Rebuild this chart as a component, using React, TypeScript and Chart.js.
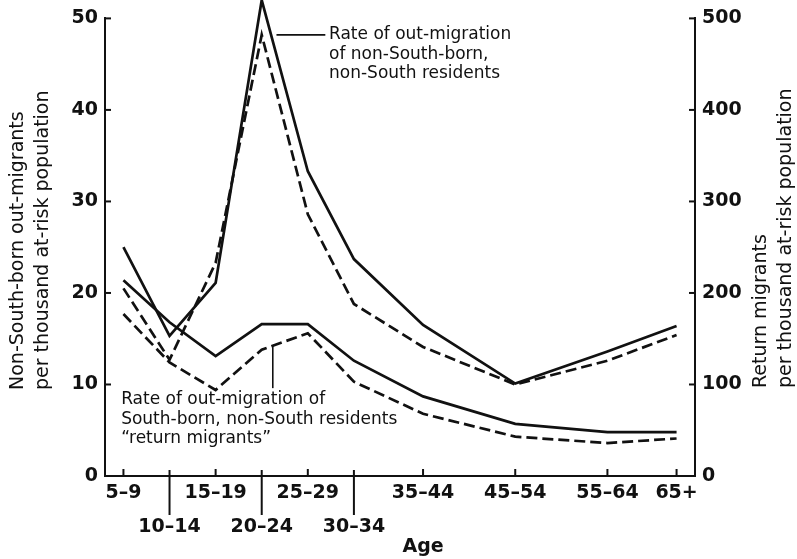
import React, { useEffect, useRef } from 'react';
import { Chart, registerables } from 'chart.js';

Chart.register(...registerables);

// ---- Data ----
const ageGroups = ['5–9', '10–14', '15–19', '20–24', '25–29', '30–34', '35–44', '45–54', '55–64', '65+'];
const ageMidpoints = [7, 12, 17, 22, 27, 32, 39.5, 49.5, 59.5, 67];
const lowerRowGroups = ['10–14', '20–24', '30–34'];

// Non-South-born, non-South residents (left axis, per thousand)
const nonSouthBornSolid = [25.0, 15.3, 21.1, 52.0, 33.3, 23.7, 16.5, 10.1, 13.6, 16.4];
const nonSouthBornDashed = [20.5, 12.7, 23.3, 48.2, 28.6, 18.8, 14.1, 10.0, 12.6, 15.4];

// South-born, non-South residents, "return migrants" (right axis, per thousand)
const returnSolid = [214, 168, 131, 166, 166, 126, 87, 57, 48, 48];
const returnDashed = [177, 124, 94, 138, 156, 103, 68, 43, 36, 41];

const leftTicks = [0, 10, 20, 30, 40, 50];
const rightTicks = [0, 100, 200, 300, 400, 500];

const leftTitle = ['Non-South-born out-migrants', 'per thousand at-risk population'];
const rightTitle = ['Return migrants', 'per thousand at-risk population'];
const xTitle = 'Age';
const noteUpper = ['Rate of out-migration', 'of non-South-born,', 'non-South residents'];
const noteLower = ['Rate of out-migration of', 'South-born, non-South residents', '“return migrants”'];

const INK = '#111';
const FONT = 'DejaVu Sans';

const pts = (ys: number[]) => ageMidpoints.map((x, i) => ({ x, y: ys[i] }));

const decorPlugin = {
  id: 'decor',
  afterDraw(chart: any) {
    const { ctx, chartArea, scales } = chart;
    const xs = scales.x;
    const yl = scales.y;
    const yr = scales.y2;
    const { left, right, bottom } = chartArea;
    ctx.save();
    ctx.strokeStyle = INK;
    ctx.fillStyle = INK;
    ctx.lineWidth = 2;
    ctx.lineCap = 'butt';
    const seg = (x1: number, y1: number, x2: number, y2: number) => {
      ctx.beginPath();
      ctx.moveTo(x1, y1);
      ctx.lineTo(x2, y2);
      ctx.stroke();
    };
    // y ticks (inward)
    leftTicks.forEach((v) => {
      const py = yl.getPixelForValue(v);
      seg(left, py, left + 6, py);
    });
    rightTicks.forEach((v) => {
      const py = yr.getPixelForValue(v);
      seg(right - 6, py, right, py);
    });
    // x ticks
    ageGroups.forEach((g, i) => {
      const px = xs.getPixelForValue(ageMidpoints[i]);
      if (lowerRowGroups.includes(g)) seg(px, bottom - 6, px, bottom + 39);
      else seg(px, bottom - 7, px, bottom);
    });

    // axis titles
    ctx.font = `19px "${FONT}"`;
    ctx.textAlign = 'left';
    ctx.textBaseline = 'middle';
    const drawRot = (lines: string[], xs0: number[], y0: number) => {
      lines.forEach((t, i) => {
        ctx.save();
        ctx.translate(xs0[i], y0);
        ctx.rotate(-Math.PI / 2);
        ctx.fillText(t, 0, 0);
        ctx.restore();
      });
    };
    drawRot(leftTitle, [left - 87, left - 62], bottom - 86);
    drawRot(rightTitle, [right + 66, right + 91], bottom - 88);

    ctx.font = `bold 19px "${FONT}"`;
    ctx.textAlign = 'center';
    ctx.fillText(xTitle, xs.getPixelForValue(39.5), bottom + 71);

    // annotations
    ctx.lineWidth = 1.6;
    const a1y = yl.getPixelForValue(48.2);
    seg(xs.getPixelForValue(23.6), a1y, xs.getPixelForValue(28.9), a1y);
    ctx.font = `17px "${FONT}"`;
    ctx.textAlign = 'left';
    const a1x = xs.getPixelForValue(29.3);
    noteUpper.forEach((t, i) => ctx.fillText(t, a1x, a1y + i * 19.5));

    const lx = xs.getPixelForValue(23.2);
    seg(lx, yr.getPixelForValue(143), lx, yr.getPixelForValue(96));
    const a2x = xs.getPixelForValue(6.75);
    const a2y = yr.getPixelForValue(83);
    noteLower.forEach((t, i) => ctx.fillText(t, a2x, a2y + i * 19.5));
    ctx.restore();
  },
};

export default function App() {
  const ref = useRef<HTMLCanvasElement | null>(null);
  useEffect(() => {
    if (!ref.current) return;
    Chart.defaults.font.family = FONT;
    const base = {
      borderColor: INK,
      borderWidth: 2.7,
      pointRadius: 0,
      tension: 0,
      fill: false,
      clip: false as any,
      borderJoinStyle: 'miter' as const,
    };
    const tickFont = { family: FONT, size: 19, weight: 'bold' as const };
    const chart = new Chart(ref.current, {
      type: 'line',
      data: {
        datasets: [
          { ...base, data: pts(nonSouthBornSolid), yAxisID: 'y' },
          { ...base, data: pts(nonSouthBornDashed), yAxisID: 'y', borderDash: [11, 5] },
          { ...base, data: pts(returnSolid), yAxisID: 'y2' },
          { ...base, data: pts(returnDashed), yAxisID: 'y2', borderDash: [11, 5] },
        ],
      },
      options: {
        animation: false,
        responsive: false,
        layout: { padding: { top: 18, left: 0, right: 0, bottom: 0 } },
        plugins: { legend: { display: false }, tooltip: { enabled: false } },
        scales: {
          x: {
            type: 'linear',
            position: 'bottom',
            min: 5,
            max: 69,
            afterBuildTicks: (s: any) => {
              s.ticks = ageMidpoints.map((v) => ({ value: v }));
            },
            afterFit: (s: any) => {
              s.height = 83;
            },
            grid: { display: false, drawTicks: false },
            border: { display: true, color: INK, width: 2 },
            ticks: {
              autoSkip: false,
              maxRotation: 0,
              minRotation: 0,
              padding: 0,
              color: INK,
              font: { ...tickFont, lineHeight: '34px' as any },
              callback: (v: any) => {
                const i = ageMidpoints.indexOf(Number(v));
                if (i < 0) return '';
                const g = ageGroups[i];
                return lowerRowGroups.includes(g) ? ['', g] : g;
              },
            },
          },
          y: {
            position: 'left',
            min: 0,
            max: 50,
            afterBuildTicks: (s: any) => {
              s.ticks = leftTicks.map((v) => ({ value: v }));
            },
            afterFit: (s: any) => {
              s.width = 105;
            },
            grid: { display: false, drawTicks: false },
            border: { display: true, color: INK, width: 2 },
            ticks: { padding: 7, color: INK, font: tickFont },
          },
          y2: {
            position: 'right',
            min: 0,
            max: 500,
            afterBuildTicks: (s: any) => {
              s.ticks = rightTicks.map((v) => ({ value: v }));
            },
            afterFit: (s: any) => {
              s.width = 102;
            },
            grid: { display: false, drawTicks: false },
            border: { display: true, color: INK, width: 2 },
            ticks: { padding: 7, color: INK, font: tickFont },
          },
        },
      },
      plugins: [decorPlugin],
    });
    return () => chart.destroy();
  }, []);
  return (
    <div style={{ position: 'fixed', left: 0, top: 0, width: 797, height: 559, background: '#fff' }}>
      <canvas ref={ref} width={797} height={559} style={{ display: 'block' }} />
    </div>
  );
}
